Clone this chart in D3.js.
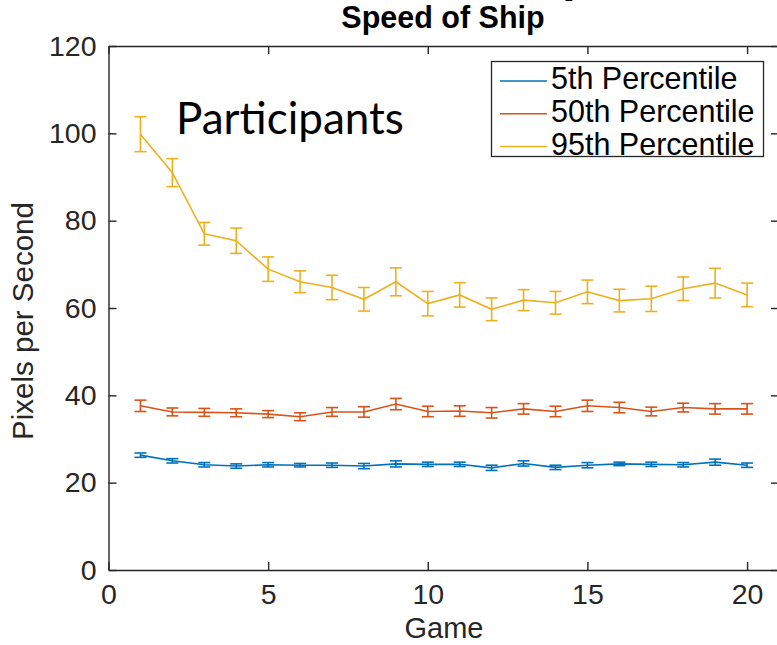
<!DOCTYPE html>
<html>
<head>
<meta charset="utf-8">
<script src="https://cdn.jsdelivr.net/npm/d3@7"></script>
<style>
  body { margin: 0; background: #fff; }
  svg { display: block; }
</style>
</head>
<body>
<svg width="777" height="645"></svg>
<script>
// values
const games = [1, 2, 3, 4, 5, 6, 7, 8, 9, 10, 11, 12, 13, 14, 15, 16, 17, 18, 19, 20];
const p5 = [26.3, 25.0, 24.1, 23.8, 24.1, 24.0, 24.0, 23.8, 24.3, 24.2, 24.2, 23.4, 24.4, 23.5, 24.0, 24.3, 24.2, 24.1, 24.7, 24.0];
const p5Err = [0.5, 0.5, 0.5, 0.5, 0.5, 0.4, 0.5, 0.6, 0.7, 0.5, 0.5, 0.6, 0.6, 0.5, 0.6, 0.4, 0.5, 0.5, 0.7, 0.5];
const p50 = [37.6, 36.2, 36.1, 36.0, 35.7, 35.1, 36.2, 36.2, 38.0, 36.3, 36.4, 36.0, 36.9, 36.3, 37.6, 37.2, 36.3, 37.2, 36.9, 36.9];
const p50Err = [1.3, 0.9, 0.9, 0.9, 0.8, 0.9, 1.0, 1.2, 1.3, 1.2, 1.2, 1.2, 1.2, 1.2, 1.3, 1.2, 1.0, 1.0, 1.2, 1.2];
const p95 = [99.8, 91.0, 77.0, 75.4, 68.9, 66.0, 64.7, 62.0, 66.0, 61.0, 63.0, 59.7, 61.8, 61.2, 63.7, 61.7, 62.1, 64.4, 65.7, 63.0];
const p95Err = [4.0, 3.2, 2.6, 2.9, 2.8, 2.5, 2.8, 2.7, 3.2, 2.8, 2.8, 2.6, 2.4, 2.6, 2.7, 2.6, 2.9, 2.7, 3.4, 2.7];

const seriesNames = ['5th Percentile', '50th Percentile', '95th Percentile'];
const xTicks = [0, 5, 10, 15, 20];
const yTicks = [0, 20, 40, 60, 80, 100, 120];

const series = [
  { name: seriesNames[0], vals: p5, err: p5Err, color: '#0072BD' },
  { name: seriesNames[1], vals: p50, err: p50Err, color: '#D95319' },
  { name: seriesNames[2], vals: p95, err: p95Err, color: '#EDB120' }
];

const svg = d3.select('svg');
const font = '"Liberation Sans", Arial, Helvetica, sans-serif';
const axisColor = '#262626';

const x = d3.scaleLinear().domain([0, 21]).range([108.5, 779]);
const y = d3.scaleLinear().domain([0, 120]).range([570, 46]);

// cut-off big heading above the plot (only a sliver is visible)
svg.append('text')
  .attr('x', 562).attr('y', -9)
  .style('font-family', font).style('font-weight', 'bold').style('font-size', '50px')
  .text('p');

// axes, MATLAB style box with inward ticks
function styleAxis(g) {
  g.selectAll('path.domain').attr('stroke', axisColor).attr('stroke-width', 1.4);
  g.selectAll('.tick line').attr('stroke', axisColor).attr('stroke-width', 1.4);
  g.selectAll('.tick text')
    .attr('fill', axisColor)
    .style('font-family', font)
    .style('font-size', '28.5px');
}

svg.append('g')
  .attr('transform', `translate(0,${y(0)})`)
  .call(d3.axisBottom(x).tickValues(xTicks).tickSizeInner(-8).tickSizeOuter(0).tickPadding(14))
  .call(styleAxis);

svg.append('g')
  .attr('transform', `translate(${x(0)},0)`)
  .call(d3.axisLeft(y).tickValues(yTicks).tickSizeInner(-8).tickSizeOuter(0).tickPadding(12))
  .call(styleAxis);

svg.append('g')
  .attr('transform', `translate(0,${y(120)})`)
  .call(d3.axisTop(x).tickValues(xTicks).tickSizeInner(-8).tickSizeOuter(0).tickFormat(''))
  .call(styleAxis);

svg.append('g')
  .attr('transform', `translate(${x(21)},0)`)
  .call(d3.axisRight(y).tickValues(yTicks).tickSizeInner(-8).tickSizeOuter(0).tickFormat(''))
  .call(styleAxis);

// lines and error bars
const line = d3.line()
  .x((d, i) => x(games[i]))
  .y(d => y(d));

const cap = 6;
series.forEach(s => {
  const g = svg.append('g');
  g.append('path')
    .attr('d', line(s.vals))
    .attr('fill', 'none')
    .attr('stroke', s.color)
    .attr('stroke-width', 1.6);

  const bars = g.selectAll('g.err')
    .data(s.vals.map((v, i) => ({ g: games[i], v: v, e: s.err[i] })))
    .join('g')
    .attr('class', 'err')
    .attr('stroke', s.color)
    .attr('stroke-width', 1.6);

  bars.append('line')
    .attr('x1', d => x(d.g)).attr('x2', d => x(d.g))
    .attr('y1', d => y(d.v + d.e)).attr('y2', d => y(d.v - d.e));
  bars.append('line')
    .attr('x1', d => x(d.g) - cap).attr('x2', d => x(d.g) + cap)
    .attr('y1', d => y(d.v + d.e)).attr('y2', d => y(d.v + d.e));
  bars.append('line')
    .attr('x1', d => x(d.g) - cap).attr('x2', d => x(d.g) + cap)
    .attr('y1', d => y(d.v - d.e)).attr('y2', d => y(d.v - d.e));
});

// title and axis labels
svg.append('text')
  .attr('x', 443).attr('y', 28)
  .attr('text-anchor', 'middle')
  .style('font-family', font).style('font-weight', 'bold').style('font-size', '30.5px')
  .attr('fill', '#000')
  .text('Speed of Ship');

svg.append('text')
  .attr('x', 444).attr('y', 638)
  .attr('text-anchor', 'middle')
  .style('font-family', font).style('font-size', '29px')
  .attr('fill', axisColor)
  .text('Game');

svg.append('text')
  .attr('transform', 'translate(33,321) rotate(-90)')
  .attr('text-anchor', 'middle')
  .style('font-family', font).style('font-size', '29.5px')
  .attr('fill', axisColor)
  .text('Pixels per Second');

// annotation
svg.append('text')
  .attr('x', 176).attr('y', 134)
  .style('font-family', 'Lato, "Open Sans", sans-serif').style('font-size', '44px')
  .attr('fill', '#000')
  .text('Participants');

// legend
const legend = svg.append('g');
legend.append('rect')
  .attr('x', 491.5).attr('y', 61.5)
  .attr('width', 272).attr('height', 95)
  .attr('fill', '#fff')
  .attr('stroke', axisColor).attr('stroke-width', 1.3);

const rowY = d3.scalePoint().domain(seriesNames).range([81, 146.5]);
series.forEach(s => {
  legend.append('line')
    .attr('x1', 500).attr('x2', 547)
    .attr('y1', rowY(s.name)).attr('y2', rowY(s.name))
    .attr('stroke', s.color).attr('stroke-width', 1.6);
  legend.append('text')
    .attr('x', 551).attr('y', rowY(s.name))
    .attr('dy', '0.27em')
    .style('font-family', font).style('font-size', '30.5px')
    .attr('fill', '#000')
    .text(s.name);
});
</script>
</body>
</html>
